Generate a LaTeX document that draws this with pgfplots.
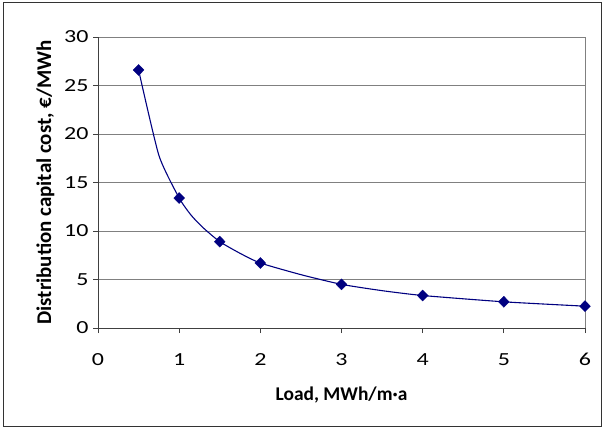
\documentclass[border=0pt]{standalone}
\usepackage{fontspec}
\setmainfont{Carlito}
\newfontfamily\tickfont[FakeStretch=1.3]{Carlito}
\usepackage{pgfplots}
\pgfplotsset{compat=1.18}
\definecolor{navyline}{RGB}{0,0,128}
\definecolor{gridgray}{RGB}{128,128,128}
\begin{document}
\begin{tikzpicture}
\begin{axis}[
  scale only axis,
  width=487bp, height=291bp,
  xmin=0, xmax=6, ymin=0, ymax=30,
  xtick={0,1,2,3,4,5,6},
  ytick={0,5,10,15,20,25,30},
  ymajorgrids,
  grid style={gridgray, line width=0.8pt},
  axis line style={draw=none},
  tick style={black!75, line width=0.8pt},
  tick align=outside,
  major tick length=5bp,
  xtick pos=bottom, ytick pos=left,
  /pgf/number format/assume math mode=true,
  ticklabel style={font=\tickfont\fontsize{18.5}{20}\selectfont},
  xticklabel style={yshift=-17bp},
  yticklabel style={xshift=-1bp},
  xlabel={\textbf{Load, MWh/m·a}},
  ylabel={\textbf{Distribution capital cost, €/MWh}},
  xlabel style={font=\fontsize{19.5}{22}\selectfont, yshift=-14bp},
  ylabel style={font=\fontsize{21}{24}\selectfont, yshift=3bp},
  clip=false,
]
\draw[gridgray, line width=0.8pt] (rel axis cs:1,0) -- (rel axis cs:1,1);
\draw[black!75, line width=0.9pt] (rel axis cs:0,0) -- (rel axis cs:1,0);
\draw[black!75, line width=0.9pt] (rel axis cs:0,0) -- (rel axis cs:0,1);
\addplot[navyline, line width=1.1pt, smooth, tension=0.35] coordinates {
  (0.5,26.6) (0.75,17.8) (1,13.4) (1.15,11.6) (1.3,10.3) (1.5,8.9) (1.75,7.7)
  (2,6.7) (2.5,5.5) (3,4.5) (3.5,3.85) (4,3.35) (5,2.7) (6,2.25)
};
\addplot[only marks, mark=diamond*, mark size=5.5bp, navyline,
  mark options={fill=navyline, xscale=1.3}] coordinates {
  (0.5,26.6) (1,13.4) (1.5,8.9) (2,6.7) (3,4.5) (4,3.35) (5,2.7) (6,2.25)
};
\end{axis}
\draw[black!80, line width=1pt] ([shift={(-95bp,-98bp)}]current axis.south west) rectangle ([shift={(16bp,34bp)}]current axis.north east);
\path ([shift={(-98bp,-100bp)}]current axis.south west) rectangle ([shift={(17bp,37bp)}]current axis.north east);
\end{tikzpicture}
\end{document}
